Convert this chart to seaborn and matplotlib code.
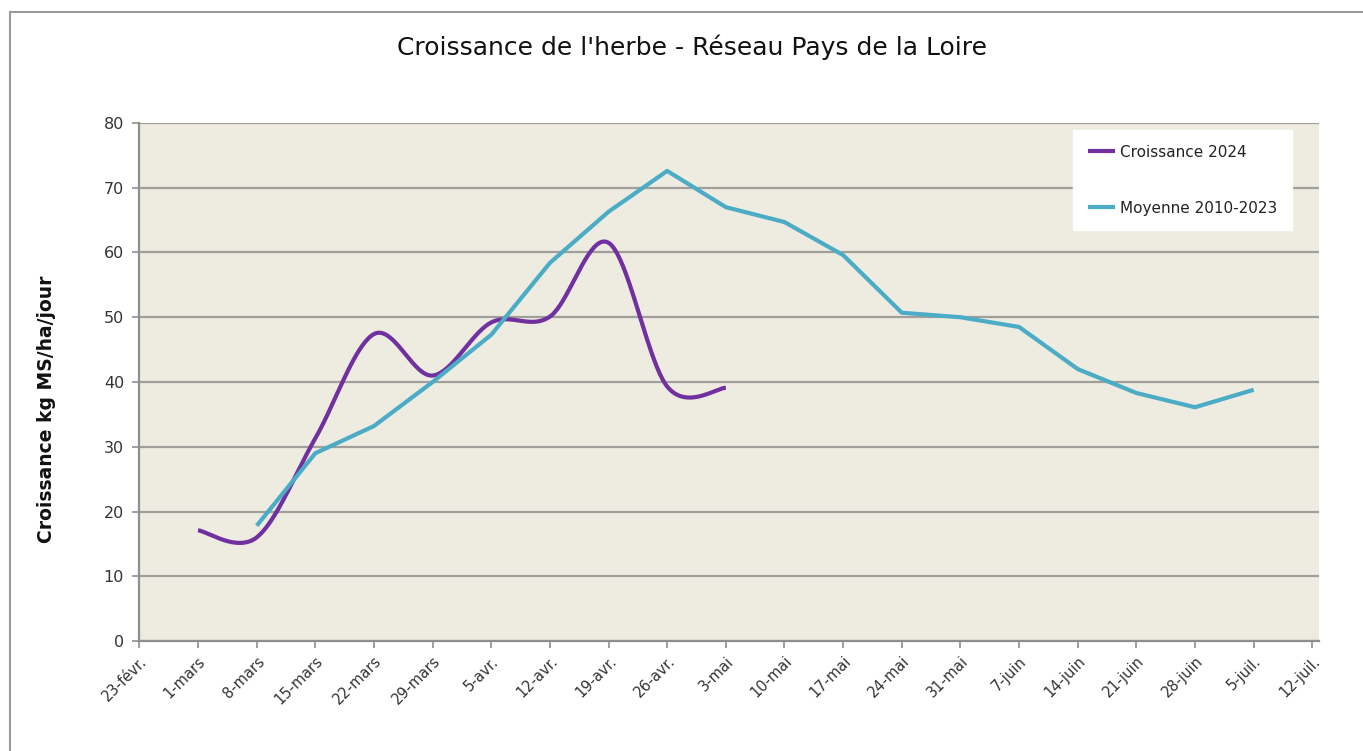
import numpy as np
import pandas as pd
import matplotlib
matplotlib.use("Agg")
import matplotlib.pyplot as plt
import seaborn as sns
from matplotlib.patches import Rectangle

# ---- data ----
tick_labels = ["23-févr.", "1-mars", "8-mars", "15-mars", "22-mars", "29-mars", "5-avr.",
               "12-avr.", "19-avr.", "26-avr.", "3-mai", "10-mai", "17-mai", "24-mai",
               "31-mai", "7-juin", "14-juin", "21-juin", "28-juin", "5-juil.", "12-juil."]
tick_days = [7 * i for i in range(len(tick_labels))]  # days since 23-févr.

croissance_days = [7, 14, 21, 28, 35, 42, 49, 56, 63, 70]
croissance_2024 = [17.1, 16.0, 31.3, 47.4, 41.0, 49.2, 50.1, 61.5, 39.3, 39.1]

moyenne_days = [14, 21, 28, 35, 42, 49, 56, 63, 70, 77, 84, 91, 98, 105, 112, 119, 126, 133]
moyenne_2010_2023 = [17.8, 29.0, 33.2, 40.0, 47.3, 58.4, 66.3, 72.6, 67.0, 64.7, 59.6,
                     50.7, 50.0, 48.5, 42.0, 38.3, 36.1, 38.8]

PURPLE = "#7030A0"
AQUA = "#4BACC6"


def smooth(xs, ys, n=40):
    """Excel-style smoothed line (Bezier through the points) - rendering only."""
    xs = np.asarray(xs, float)
    ys = np.asarray(ys, float)
    P = np.column_stack([xs, ys])
    out = []
    for i in range(len(P) - 1):
        p0 = P[i - 1] if i > 0 else P[i]
        p1, p2 = P[i], P[i + 1]
        p3 = P[i + 2] if i + 2 < len(P) else P[i + 1]
        c1 = p1 + (p2 - p0) / 6.0
        c2 = p2 - (p3 - p1) / 6.0
        t = np.linspace(0, 1, n, endpoint=(i == len(P) - 2))[:, None]
        seg = ((1 - t) ** 3) * p1 + 3 * ((1 - t) ** 2) * t * c1 + 3 * (1 - t) * t ** 2 * c2 + t ** 3 * p2
        out.append(seg)
    out = np.vstack(out)
    return out[:, 0], out[:, 1]


sns.set_theme(style="white")
plt.rcParams["font.family"] = ["DejaVu Sans"]

fig = plt.figure(figsize=(13.63, 7.51), dpi=100)
W, H = 1363, 751
ax = fig.add_axes([139.4 / W, 1 - 641 / H, (1319 - 139.4) / W, (641 - 123) / H])
ax.set_facecolor("#EEEBE1")

sx, sy = smooth(croissance_days, croissance_2024)
df_c = pd.DataFrame({"jour": sx, "val": sy})
df_m = pd.DataFrame({"jour": moyenne_days, "val": moyenne_2010_2023})

sns.lineplot(data=df_c, x="jour", y="val", ax=ax, color=PURPLE, lw=3.0, sort=False,
             estimator=None, label="Croissance 2024", solid_capstyle="butt", zorder=3)
sns.lineplot(data=df_m, x="jour", y="val", ax=ax, color=AQUA, lw=3.0, sort=False,
             estimator=None, label="Moyenne 2010-2023", solid_capstyle="butt", zorder=4)

ax.set_xlim(0, 140.8)
ax.set_ylim(0, 80)
ax.set_yticks(range(0, 81, 10))
ax.set_xticks(tick_days)
ax.set_xticklabels(tick_labels, rotation=45, ha="right", rotation_mode="anchor",
                   fontsize=10.5, color="#333333")
for lab in ax.get_yticklabels():
    lab.set_fontsize(11.5)
    lab.set_color("#333333")

ax.yaxis.grid(True, color="#A19F99", lw=1.6)
ax.xaxis.grid(False)
ax.set_axisbelow(True)
for s in ["top", "right"]:
    ax.spines[s].set_visible(False)
for s in ["left", "bottom"]:
    ax.spines[s].set_color("#8F8F8F")
    ax.spines[s].set_linewidth(1.6)
ax.tick_params(axis="both", which="major", direction="out", length=5, width=1.2,
               color="#8F8F8F", left=True, bottom=True)
ax.tick_params(axis="y", pad=6)
ax.tick_params(axis="x", pad=4)

ax.set_xlabel("")
ax.set_ylabel("Croissance kg MS/ha/jour", fontsize=13.5, fontweight="bold",
              color="#111111")
ax.yaxis.set_label_coords((56 - 139.4) / (1319 - 139.4), (641 - 409) / 518)

leg = ax.legend(loc="upper left", bbox_to_anchor=((1073 - 139.4) / (1319 - 139.4), (641 - 130) / 518),
                borderaxespad=0, frameon=True, fancybox=False, framealpha=1,
                facecolor="white", edgecolor="white", fontsize=11,
                handlelength=1.8, handletextpad=0.35, labelspacing=2.7, borderpad=0.95)
for line in leg.get_lines():
    line.set_linewidth(3.0)
for t in leg.get_texts():
    t.set_color("#222222")

fig.text(692 / W, 1 - 47 / H, "Croissance de l'herbe - Réseau Pays de la Loire",
         ha="center", va="center", fontsize=18,
         family=["Liberation Sans Narrow", "DejaVu Sans"], color="#111111")

fig.patches.append(Rectangle((10 / W, -0.1), 1.2, 1.1 - 12 / H, transform=fig.transFigure,
                             fill=False, edgecolor="#9A9A9A", lw=1.5, zorder=0))

fig.savefig("out.png", dpi=100, facecolor="white")
